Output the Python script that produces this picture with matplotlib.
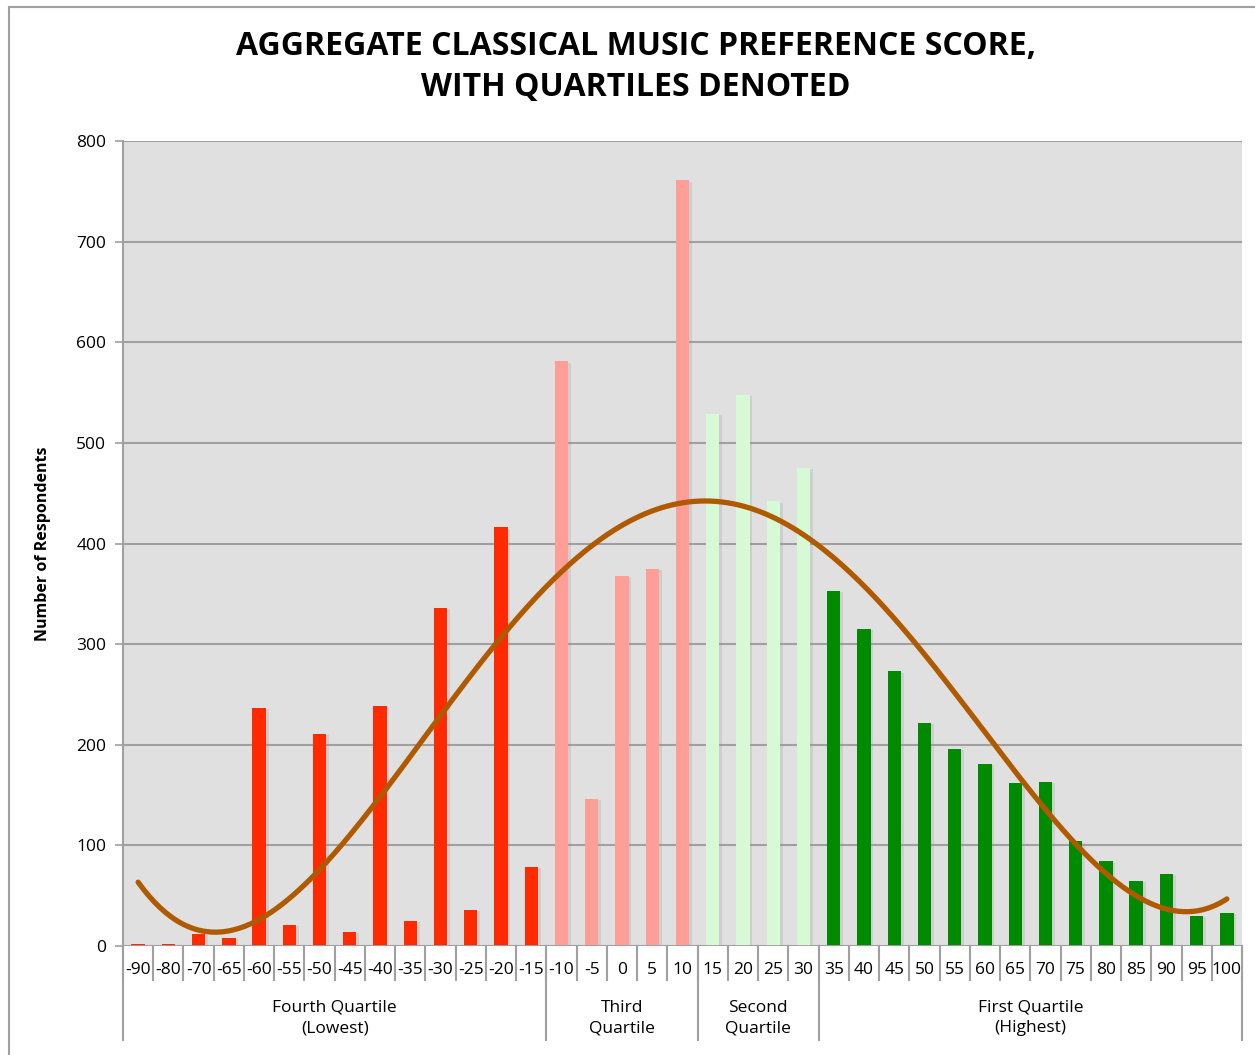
import numpy as np
import matplotlib
matplotlib.use("Agg")
import matplotlib.pyplot as plt
from matplotlib import patheffects as pe
from matplotlib.patches import Rectangle

plt.rcParams['font.family'] = ['Open Sans', 'DejaVu Sans']

categories = ["-90", "-80", "-70", "-65", "-60", "-55", "-50", "-45", "-40", "-35",
              "-30", "-25", "-20", "-15", "-10", "-5", "0", "5", "10", "15", "20",
              "25", "30", "35", "40", "45", "50", "55", "60", "65", "70", "75", "80",
              "85", "90", "95", "100"]
values = [2, 2, 12, 8, 237, 21, 211, 14, 239, 25, 336, 36, 416, 79,
          581, 146, 368, 375, 761,
          529, 548, 442, 475,
          353, 315, 273, 222, 196, 181, 162, 163, 104, 84, 65, 72, 30, 33]
group_names = ["Fourth Quartile\n(Lowest)", "Third\nQuartile", "Second\nQuartile",
               "First Quartile\n(Highest)"]
group_sizes = [14, 5, 4, 14]
group_colors = ["#ff2a00", "#ff9e96", "#d6f9d6", "#008a00"]
yticks = [0, 100, 200, 300, 400, 500, 600, 700, 800]
title = "AGGREGATE CLASSICAL MUSIC PREFERENCE SCORE,\nWITH QUARTILES DENOTED"
ylabel = "Number of Respondents"
trend_degree = 4

W, H = 1255, 1055
fig = plt.figure(figsize=(W / 100, H / 100), dpi=100)
fig.patch.set_facecolor("white")

L, R, T, B = 123, 1242, 141, 946
ax = fig.add_axes([L / W, 1 - B / H, (R - L) / W, (B - T) / H])
ax.set_facecolor("#e0e0e0")

x = np.arange(len(categories))
colors = []
for c, n in zip(group_colors, group_sizes):
    colors += [c] * n

bars = ax.bar(x, values, width=0.44, color=colors, zorder=3)
for b in bars:
    b.set_path_effects([pe.SimplePatchShadow(offset=(2, -1), shadow_rgbFace="#9a9a9a", alpha=0.25),
                        pe.Normal()])

# polynomial trendline (as in Excel, fitted on category index 1..n)
xi = x + 1
coef = np.polyfit(xi, values, trend_degree)
xs = np.linspace(xi[0], xi[-1], 400)
ax.plot(xs - 1, np.polyval(coef, xs), color="#b05a00", lw=3.8, zorder=4,
        solid_capstyle="round")

ax.set_xlim(-0.5, len(categories) - 0.5)
ax.set_ylim(0, 800)
ax.set_yticks(yticks)
ax.set_yticklabels([str(v) for v in yticks], fontsize=12.5)
ax.yaxis.grid(True, color="#a0a0a0", lw=1.5, zorder=1)
ax.set_axisbelow(True)
ax.tick_params(axis="y", length=6, color="#a0a0a0", width=1.2, pad=6)
ax.tick_params(axis="x", length=0, labelbottom=False)
for s in ["top", "right", "bottom"]:
    ax.spines[s].set_visible(False)
ax.spines["left"].set_color("#a0a0a0")
ax.spines["left"].set_linewidth(1.5)
ax.axhline(0, color="#a0a0a0", lw=2, zorder=5)

trans = ax.get_xaxis_transform()
axh = B - T
tick_len = 34 / axh
grp_len = 94 / axh
# category separators
for i in range(len(categories) + 1):
    ax.plot([i - 0.5, i - 0.5], [0, -tick_len], transform=trans, color="#a0a0a0",
            lw=1.5, clip_on=False)
for i, lab in enumerate(categories):
    ax.text(i, -24 / axh, lab, transform=trans, ha="center", va="center",
            fontsize=12.5, clip_on=False)
# group separators and labels
bounds = [0]
for n in group_sizes:
    bounds.append(bounds[-1] + n)
for b0 in bounds:
    ax.plot([b0 - 0.5, b0 - 0.5], [0, -grp_len], transform=trans, color="#a0a0a0",
            lw=1.5, clip_on=False)
for name, b0, b1 in zip(group_names, bounds[:-1], bounds[1:]):
    ax.text((b0 + b1 - 1) / 2, -72 / axh, name, transform=trans, ha="center",
            va="center", fontsize=12.5, linespacing=1.35, clip_on=False)

ax.set_ylabel(ylabel, fontsize=11.5, fontweight="bold", labelpad=18)
fig.text(636 / W, 1 - 67 / H, title, ha="center", va="center", fontsize=23,
         fontweight="bold", linespacing=1.3)

# outer border
fig.patches.append(Rectangle((9 / W, -0.1), 1.2, 1 - 7 / H + 0.1, transform=fig.transFigure,
                             fill=False, edgecolor="#a0a0a0", lw=1.5))

fig.savefig("out.png", dpi=100)
